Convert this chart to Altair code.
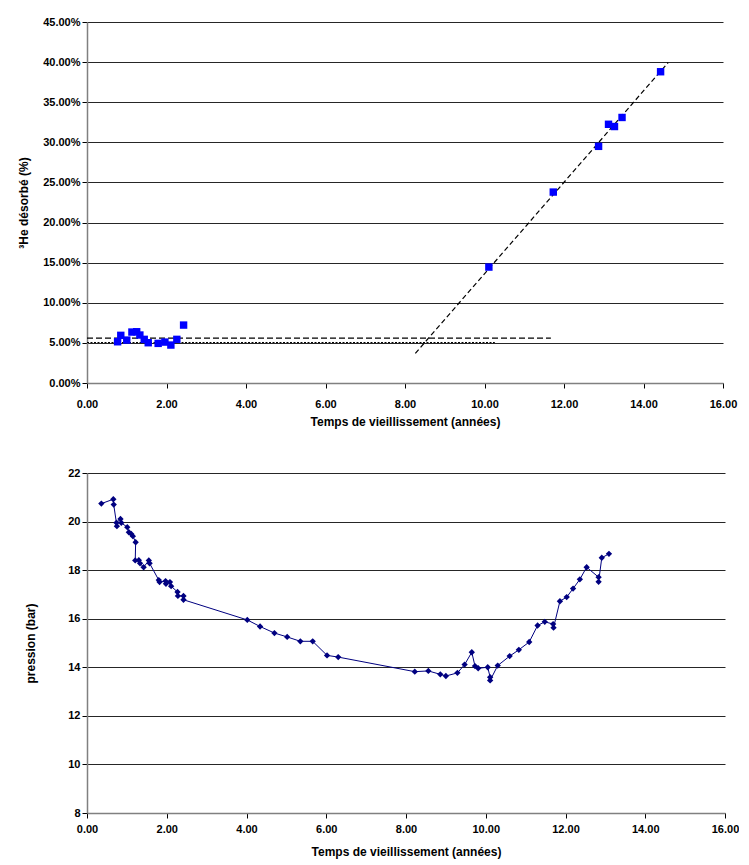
import altair as alt
import pandas as pd

# ---------- Top chart data ----------
top_years = [0.77, 0.85, 1.00, 1.13, 1.25, 1.33, 1.44, 1.54, 1.79, 1.96, 2.11, 2.26, 2.43,
             10.11, 11.73, 12.87, 13.12, 13.27, 13.46, 14.43]
top_values = [0.0514, 0.0594, 0.0535, 0.0635, 0.0639, 0.0598, 0.0544, 0.0502, 0.0494, 0.0510,
              0.0473, 0.0544, 0.0722,
              0.1445, 0.2380, 0.2950, 0.3225, 0.3197, 0.3310, 0.3880]

trend_x = [8.26, 14.62]
trend_y = [0.037, 0.3995]

hline_dash_y = [0.056]
hline_dash_x2 = [11.67]
hline_dot_y = [0.0505]
hline_dot_x2 = [10.26]

top_y_ticks = [0.0, 0.05, 0.10, 0.15, 0.20, 0.25, 0.30, 0.35, 0.40, 0.45]
x_ticks = [0, 2, 4, 6, 8, 10, 12, 14, 16]

# ---------- Bottom chart data ----------
bot_years = [0.36, 0.66, 0.67, 0.75, 0.74, 0.84, 0.86, 1.01, 1.05, 1.11, 1.15, 1.22, 1.21,
             1.30, 1.33, 1.42, 1.55, 1.57, 1.80, 1.82, 1.97, 1.98, 2.08, 2.11, 2.27, 2.28,
             2.42, 2.42, 4.02, 4.34, 4.70, 5.02, 5.35, 5.66, 6.02, 6.30, 8.22, 8.56, 8.86,
             9.00, 9.29, 9.47, 9.65, 9.73, 9.81, 10.05, 10.11, 10.11, 10.30, 10.60, 10.83,
             11.09, 11.30, 11.48, 11.69, 11.70, 11.86, 12.03, 12.19, 12.36, 12.53, 12.83,
             12.83, 12.91, 13.09]
bot_values = [20.74, 20.92, 20.70, 19.81, 19.95, 20.11, 19.95, 19.77, 19.56, 19.49, 19.40,
              19.15, 18.40, 18.41, 18.28, 18.12, 18.40, 18.28, 17.59, 17.51, 17.55, 17.44,
              17.51, 17.34, 17.10, 16.94, 16.94, 16.78, 15.95, 15.68, 15.41, 15.25, 15.07,
              15.07, 14.49, 14.42, 13.82, 13.85, 13.71, 13.64, 13.77, 14.11, 14.62, 14.05,
              13.96, 14.00, 13.59, 13.46, 14.07, 14.46, 14.72, 15.04, 15.72, 15.87, 15.78,
              15.63, 16.72, 16.89, 17.24, 17.62, 18.12, 17.71, 17.52, 18.51, 18.67]
bot_y_ticks = [8, 10, 12, 14, 16, 18, 20, 22]

X_TITLE = "Temps de vieillissement (années)"

# ---------- Build top chart ----------
top_df = pd.DataFrame({"t": top_years, "v": top_values})
trend_df = pd.DataFrame({"t": trend_x, "v": trend_y})
dash_df = pd.DataFrame({"t": [0.0], "t2": hline_dash_x2, "v": hline_dash_y})
dot_df = pd.DataFrame({"t": [0.0], "t2": hline_dot_x2, "v": hline_dot_y})

x_top = alt.X("t:Q", scale=alt.Scale(domain=[0, 16], nice=False),
              axis=alt.Axis(values=x_ticks, format=".2f", title=X_TITLE, grid=False,
                            labelFlush=False, labelPadding=10, titlePadding=7))
y_top = alt.Y("v:Q", scale=alt.Scale(domain=[0, 0.45], nice=False),
              axis=alt.Axis(values=top_y_ticks, format=".2%", title="³He désorbé (%)",
                            grid=True, titlePadding=12))

top_points = alt.Chart(top_df).mark_square(size=55, color="#0000FF", opacity=1).encode(
    x=x_top, y=y_top)
top_trend = alt.Chart(trend_df).mark_line(color="black", strokeDash=[5, 3], strokeWidth=1.2).encode(
    x="t:Q", y="v:Q")
top_dash = alt.Chart(dash_df).mark_rule(color="black", strokeDash=[6, 3], strokeWidth=1.2).encode(
    x="t:Q", x2="t2:Q", y="v:Q")
top_dot = alt.Chart(dot_df).mark_rule(color="black", strokeDash=[2, 1.5], strokeWidth=1).encode(
    x="t:Q", x2="t2:Q", y="v:Q")

top = alt.layer(top_dot, top_dash, top_trend, top_points).properties(width=636, height=361)

# ---------- Build bottom chart ----------
bot_df = pd.DataFrame({"t": bot_years, "v": bot_values, "i": list(range(len(bot_years)))})

x_bot = alt.X("t:Q", scale=alt.Scale(domain=[0, 16], nice=False),
              axis=alt.Axis(values=x_ticks, format=".2f", title=X_TITLE, grid=False,
                            labelFlush=False, labelPadding=5, titlePadding=12))
y_bot = alt.Y("v:Q", scale=alt.Scale(domain=[8, 22], nice=False),
              axis=alt.Axis(values=bot_y_ticks, format="d", title="pression (bar)",
                            grid=True, titlePadding=30))

bot_line = alt.Chart(bot_df).mark_line(color="#000080", strokeWidth=1).encode(
    x=x_bot, y=y_bot, order="i:Q")
bot_pts = alt.Chart(bot_df).mark_point(shape="diamond", filled=True, size=40,
                                       color="#000080", opacity=1).encode(x="t:Q", y="v:Q")
bottom = alt.layer(bot_line, bot_pts).properties(width=638, height=340)

chart = alt.vconcat(top, bottom, spacing=40).properties(
    padding={"left": 9, "top": 8, "right": 0, "bottom": 5}
).configure(
    font="Liberation Sans"
).configure_view(stroke=None).configure_axis(
    labelFont="Liberation Sans", titleFont="Liberation Sans",
    labelFontSize=11, labelFontWeight="bold", labelColor="black",
    titleFontSize=12, titleFontWeight="bold", titleColor="black",
    domainColor="#808080", domainWidth=1.5, tickColor="#000000", tickSize=5,
    gridColor="#000000", gridWidth=1, gridOpacity=0.85
)

chart.save("out.html", embed_options={"renderer": "svg", "actions": False})
